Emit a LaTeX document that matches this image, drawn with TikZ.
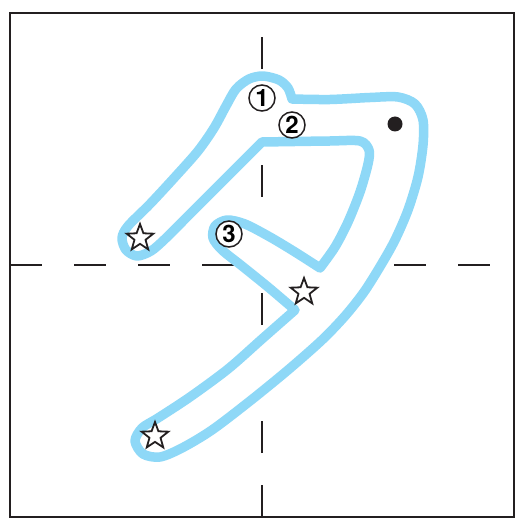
\documentclass[tikz,border=0pt]{standalone}
\usepackage{fontspec}
\setsansfont{TeX Gyre Heros}
\usepackage{tikz}
\usetikzlibrary{shapes.geometric, positioning}
\definecolor{strokeblue}{HTML}{8ED8F7}
\definecolor{inkblack}{HTML}{231F20}
\tikzset{
  frame/.style={draw=inkblack, line width=2.8pt},
  guide/.style={draw=inkblack, line width=2.4pt, dash pattern=on 32pt off 32pt},
  outline/.style={draw=strokeblue, line width=9.5pt, line join=round, fill=white},
  order/.style={
    circle, draw=inkblack, line width=1.5pt, fill=white,
    minimum size=26pt, inner sep=0pt,
    font=\sffamily\bfseries\fontsize{24}{24}\selectfont,
  },
  endmark/.style={
    star, star points=5, star point ratio=2.4,
    draw=inkblack, line width=1.8pt, fill=white,
    minimum size=28pt, inner sep=0pt,
  },
  startdot/.style={circle, fill=inkblack, minimum size=15pt, inner sep=0pt},
}
\begin{document}
\begin{tikzpicture}[x=1pt, y=-1pt]
  \useasboundingbox (0,0) rectangle (517,526);

  \draw[frame] (10,13) rectangle (514,517);
  \draw[guide] (262,517) -- (262,13);
  \draw[guide] (10,265) -- (514,265);

  \draw[outline] (292,99)
    -- plot[smooth] coordinates {(292,99) (330,99.5) (370,97.5) (398,97) (415,104) (423,120) (423,145) (418,177) (408,210) (395,240) (381,265) (364,292) (345,316) (322,340) (288,370) (250,401) (212,430) (182,448) (160,457) (143,454) (135,441) (142,428) (158,418) (190,397) (228,369) (262,339) (295,310)}
    -- plot[smooth] coordinates {(295,310) (268,287) (242,266) (222,250) (213,238) (215,226) (227,220) (245,224) (270,237) (295,252) (320,268)}
    -- plot[smooth] coordinates {(320,268) (335,247) (348,222) (360,192) (368,164) (369,150) (360,141) (330,141) (295,141.5) (262,142)}
    -- plot[smooth] coordinates {(262,142) (237,167) (212,192) (187,217) (165,239) (151,251) (137,256) (126,250) (122,238) (128,226) (150,204) (175,177) (198,151) (214,128) (226,106) (236,89) (249,79) (263,76) (279,80) (288,88) (292,99)}
    -- cycle;

  \node[order] (one) at (262,98) {1};
  \node[order] (two) at (292,125) {2};
  \node[order] (three) at (229,234) {3};

  \node[endmark] (end1) at (140,238) {};
  \node[endmark] (end2) at (155,436) {};
  \node[endmark] (end3) at (304,292) {};

  \node[startdot] (begin2) at (395,124) {};
\end{tikzpicture}
\end{document}
